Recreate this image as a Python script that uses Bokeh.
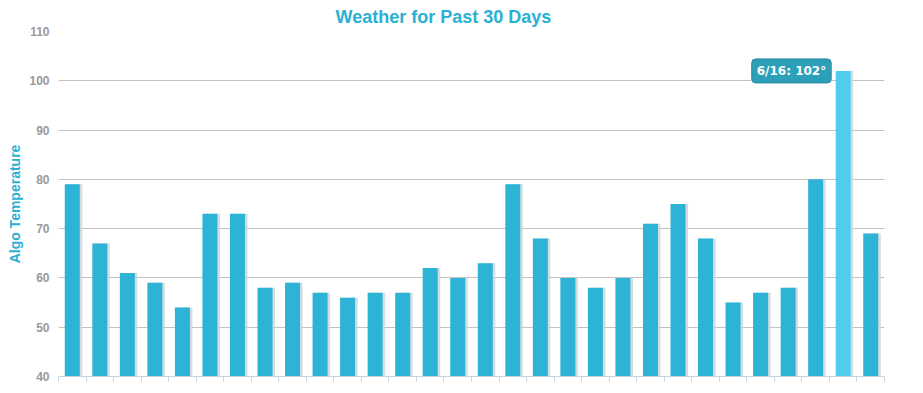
import numpy as np
from bokeh.plotting import figure
from bokeh.models import FixedTicker, Range1d, Label, ColumnDataSource
from bokeh.embed import file_html
from bokeh.resources import INLINE

dates = ["5/19", "5/20", "5/21", "5/22", "5/23", "5/24", "5/25", "5/26", "5/27", "5/28",
         "5/29", "5/30", "5/31", "6/1", "6/2", "6/3", "6/4", "6/5", "6/6", "6/7",
         "6/8", "6/9", "6/10", "6/11", "6/12", "6/13", "6/14", "6/15", "6/16", "6/17"]
temps = [79, 67, 61, 59, 54, 73, 73, 58, 59, 57,
         56, 57, 57, 62, 60, 63, 79, 68, 60, 58,
         60, 71, 75, 68, 55, 57, 58, 80, 102, 69]
y_ticks = [40, 50, 60, 70, 80, 90, 100, 110]
highlight = "6/16"

BAR = "#2db3d6"
HIGH = "#4ecdee"
BLUE_TXT = "#2ab0d4"

pos = list(np.arange(1, len(dates) + 1))
colors = [HIGH if d == highlight else BAR for d in dates]
src = ColumnDataSource(dict(x=pos, xs=[v + 0.09 for v in pos], top=temps, color=colors, date=dates))

p = figure(width=923, height=393, output_backend="svg", toolbar_location=None,
           x_range=Range1d(0.5, len(dates) + 0.5), y_range=Range1d(y_ticks[0], y_ticks[-1]),
           min_border_left=58, min_border_right=39, min_border_top=0, min_border_bottom=17)

p.title.text = "Weather for Past 30 Days"
p.title.text_color = BLUE_TXT
p.title.text_font = "Liberation Sans"
p.title.text_font_size = "18px"
p.title.text_font_style = "bold"
p.title.align = "left"
p.title.offset = 277
p.title.standoff = 9

p.outline_line_color = None
p.background_fill_color = "white"
p.border_fill_color = "white"

# shadows
p.vbar(x="xs", top="top", bottom=y_ticks[0], width=0.55, source=src,
       fill_color="#c9d4d9", line_color=None, fill_alpha=0.8)
p.vbar(x="x", top="top", bottom=y_ticks[0], width=0.545, source=src,
       fill_color="color", line_color=None)

p.xgrid.grid_line_color = None
p.ygrid.grid_line_color = "#c2c2c2"
p.ygrid.ticker = FixedTicker(ticks=y_ticks)

p.yaxis.ticker = FixedTicker(ticks=y_ticks)
p.yaxis.axis_line_color = None
p.yaxis.major_tick_line_color = None
p.yaxis.major_tick_out = 0
p.yaxis.major_tick_in = 0
p.yaxis.minor_tick_line_color = None
p.yaxis.major_label_text_color = "#999999"
p.yaxis.major_label_text_font = "Liberation Sans"
p.yaxis.major_label_text_font_style = "bold"
p.yaxis.major_label_text_font_size = "12px"
p.yaxis.major_label_standoff = 9
p.yaxis.axis_label = "Algo Temperature"
p.yaxis.axis_label_text_color = BLUE_TXT
p.yaxis.axis_label_text_font = "Liberation Sans"
p.yaxis.axis_label_text_font_style = "bold"
p.yaxis.axis_label_text_font_size = "14px"
p.yaxis.axis_label_standoff = 3

x_ticks = [v + 0.5 for v in [0] + pos]
p.xaxis.ticker = FixedTicker(ticks=x_ticks)
p.xaxis.major_label_overrides = {float(t): "" for t in x_ticks}
p.xaxis.axis_line_color = "#c5d3df"
p.xaxis.major_tick_line_color = "#c5d3df"
p.xaxis.major_tick_in = 0
p.xaxis.major_tick_out = 5
p.xaxis.minor_tick_line_color = None
p.xaxis.major_label_text_font_size = "0px"
p.xaxis.major_label_standoff = 0
p.xaxis.axis_label_standoff = 0
p.xaxis.axis_label_text_font_size = "0px"

i = dates.index(highlight)
lab = Label(x=pos[i], y=temps[i], text=f"{dates[i]}: {temps[i]}°",
            text_align="right", text_baseline="middle", x_offset=-12,
            text_color="white", text_font="DejaVu Sans", text_font_style="bold",
            text_font_size="12px", background_fill_color="#2e9fb8",
            border_line_color="#27889e", border_radius=4, padding=5)
p.add_layout(lab)

open("out.html", "w").write(file_html(p, INLINE))
